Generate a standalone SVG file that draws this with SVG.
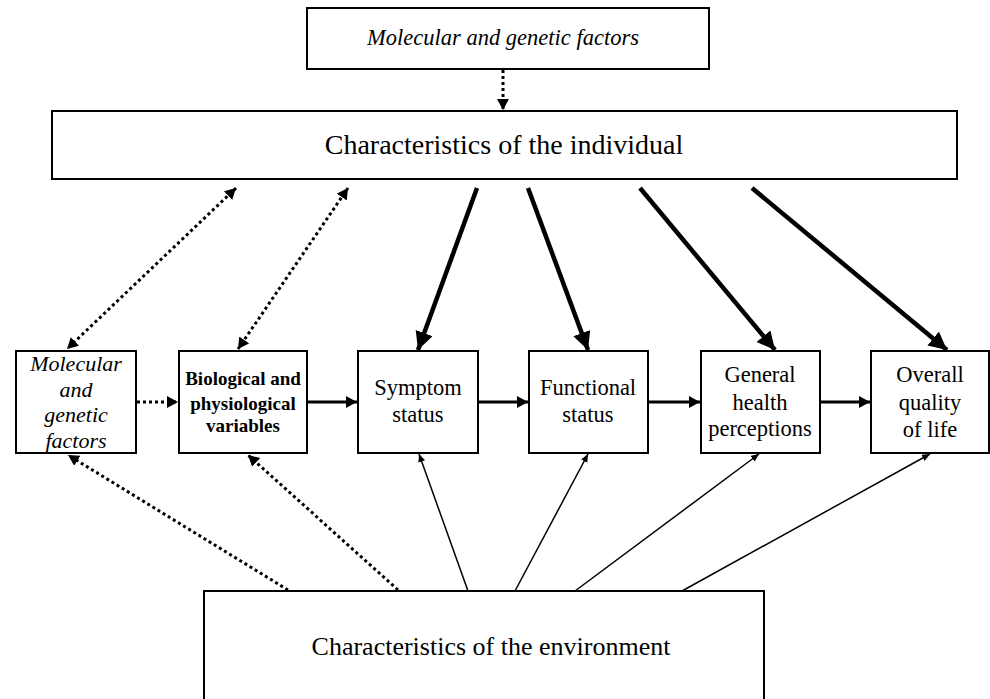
<svg xmlns="http://www.w3.org/2000/svg" width="990" height="699" viewBox="0 0 990 699">
<style>
.box{fill:#fff;stroke:#000;stroke-width:2}
.t{fill:#000;text-anchor:middle}
.thick{stroke:#000;stroke-width:4.5;fill:none;marker-end:url(#big)}
.horiz{stroke:#000;stroke-width:3;fill:none;marker-end:url(#med)}
.dot{stroke:#000;stroke-width:3;fill:none;stroke-dasharray:3 3}
.thin{stroke:#000;stroke-width:1.5;fill:none;marker-end:url(#tiny)}
</style>
<defs>
<marker id="big" markerUnits="userSpaceOnUse" markerWidth="20" markerHeight="20" refX="18" refY="9" orient="auto"><path d="M0,0 L18,9 L0,18 z" fill="#000"/></marker>
<marker id="med" markerUnits="userSpaceOnUse" markerWidth="14" markerHeight="14" refX="11" refY="6" orient="auto"><path d="M0,0 L11,6 L0,12 z" fill="#000"/></marker>
<marker id="sm" markerUnits="userSpaceOnUse" markerWidth="14" markerHeight="14" refX="11" refY="6" orient="auto-start-reverse"><path d="M0,0 L11,6 L0,12 z" fill="#000"/></marker>
<marker id="tiny" markerUnits="userSpaceOnUse" markerWidth="10" markerHeight="10" refX="8" refY="3.5" orient="auto"><path d="M0,0 L8,3.5 L0,7 z" fill="#000"/></marker>
</defs>
<g id="connectors">
<line class="dot" x1="503" y1="70" x2="503" y2="110" marker-end="url(#sm)"/>
<line class="thick" x1="477" y1="188" x2="418" y2="350"/>
<line class="thick" x1="528" y1="188" x2="588" y2="350"/>
<line class="thick" x1="640" y1="188" x2="775" y2="350"/>
<line class="thick" x1="752" y1="188" x2="947" y2="350"/>
<line class="dot" x1="236" y1="188" x2="67" y2="349" marker-start="url(#sm)" marker-end="url(#sm)"/>
<line class="dot" x1="348" y1="188" x2="238" y2="349" marker-start="url(#sm)" marker-end="url(#sm)"/>
<line class="dot" x1="137" y1="402" x2="178" y2="402" marker-end="url(#sm)"/>
<line class="horiz" x1="308" y1="402" x2="357" y2="402"/>
<line class="horiz" x1="479" y1="402" x2="528" y2="402"/>
<line class="horiz" x1="649" y1="402" x2="700" y2="402"/>
<line class="horiz" x1="821" y1="402" x2="870" y2="402"/>
<line class="dot" x1="288" y1="590" x2="68" y2="455" marker-end="url(#sm)"/>
<line class="dot" x1="398" y1="590" x2="248" y2="455" marker-end="url(#sm)"/>
<line class="thin" x1="468" y1="591" x2="419" y2="454"/>
<line class="thin" x1="515" y1="591" x2="588" y2="454"/>
<line class="thin" x1="575" y1="591" x2="759" y2="454"/>
<line class="thin" x1="682" y1="591" x2="930" y2="454"/>
</g>
<g id="molecular-top" font-family="Liberation Serif, DejaVu Serif, serif">
<rect class="box" x="307" y="8" width="402" height="61"/>
<text class="t" x="503" y="45" font-size="22.5" font-style="italic">Molecular and genetic factors</text>
</g>
<g id="individual" font-family="Liberation Serif, DejaVu Serif, serif">
<rect class="box" x="52" y="111" width="905" height="68"/>
<text class="t" x="504" y="154" font-size="28">Characteristics of the individual</text>
</g>
<g id="molecular" font-family="Liberation Serif, DejaVu Serif, serif">
<rect class="box" x="16" y="351" width="120" height="102"/>
<text class="t" font-size="22" font-style="italic"><tspan x="76" y="371">Molecular</tspan><tspan x="76" y="397">and</tspan><tspan x="76" y="422">genetic</tspan><tspan x="76" y="448">factors</tspan></text>
</g>
<g id="biological" font-family="Liberation Serif, DejaVu Serif, serif">
<rect class="box" x="179" y="351" width="128" height="102"/>
<text class="t" font-size="19" font-weight="bold"><tspan x="243" y="385">Biological and</tspan><tspan x="243" y="410">physiological</tspan><tspan x="243" y="432">variables</tspan></text>
</g>
<g id="symptom" font-family="Liberation Serif, DejaVu Serif, serif">
<rect class="box" x="358" y="351" width="120" height="102"/>
<text class="t" font-size="22.5"><tspan x="418" y="395">Symptom</tspan><tspan x="418" y="422">status</tspan></text>
</g>
<g id="functional" font-family="Liberation Serif, DejaVu Serif, serif">
<rect class="box" x="529" y="351" width="119" height="102"/>
<text class="t" font-size="22.5"><tspan x="588" y="395">Functional</tspan><tspan x="588" y="422">status</tspan></text>
</g>
<g id="general" font-family="Liberation Serif, DejaVu Serif, serif">
<rect class="box" x="701" y="351" width="119" height="102"/>
<text class="t" font-size="22.5"><tspan x="760" y="382">General</tspan><tspan x="760" y="410">health</tspan><tspan x="760" y="436">perceptions</tspan></text>
</g>
<g id="overall" font-family="Liberation Serif, DejaVu Serif, serif">
<rect class="box" x="871" y="351" width="118" height="102"/>
<text class="t" font-size="22.5"><tspan x="930" y="382">Overall</tspan><tspan x="930" y="410">quality</tspan><tspan x="930" y="437">of life</tspan></text>
</g>
<g id="environment" font-family="Liberation Serif, DejaVu Serif, serif">
<rect class="box" x="204" y="591" width="560" height="120"/>
<text class="t" x="491" y="655" font-size="26">Characteristics of the environment</text>
</g>
</svg>
